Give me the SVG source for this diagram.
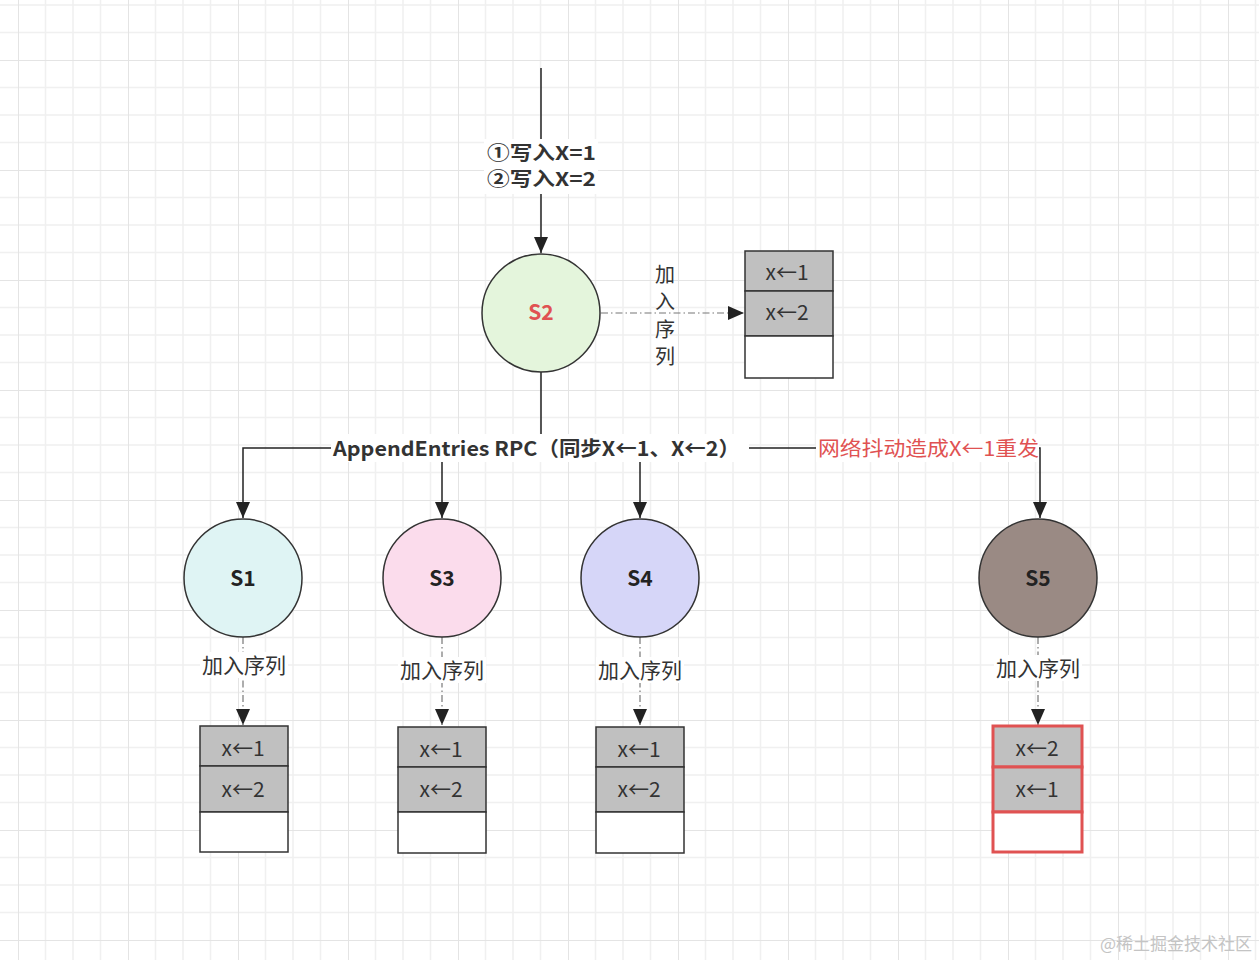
<svg xmlns="http://www.w3.org/2000/svg" width="1259" height="960" viewBox="0 0 1259 960">
<defs>
<pattern id="grid" patternUnits="userSpaceOnUse" x="18" y="60" width="110" height="110">
<path d="M27.5 0V110M55 0V110M82.5 0V110M0 27.5H110M0 55H110M0 82.5H110" stroke="#f0f0f0" stroke-width="1.5" fill="none"/>
<path d="M0 0V110M0 0H110" stroke="#e4e4e4" stroke-width="2" fill="none"/>
</pattern>
<marker id="arr" markerWidth="16" markerHeight="14" refX="16" refY="7" viewBox="0 0 16 14" markerUnits="userSpaceOnUse" orient="auto">
<path d="M0 0L16 7L0 14Z" fill="#222"/>
</marker>
</defs>
<style>
.t{font-family:"Noto Sans CJK SC","Open Sans","Noto Sans",sans-serif;fill:#333;}
.b{font-weight:bold;}
.edge{stroke:#222;stroke-width:1.5;fill:none;}
.dd{stroke:#777;stroke-width:1.2;fill:none;stroke-dasharray:7 3 1.5 3;}
.node{stroke:#333;stroke-width:1.5;}
.cell{fill:#c0c0c0;stroke:#333;stroke-width:1.5;}
.empty{fill:#fff;stroke:#333;stroke-width:1.5;}
.rcell{fill:#c0c0c0;stroke:#e05252;stroke-width:3;}
.rempty{fill:#fff;stroke:#e05252;stroke-width:3;}
.lbl{font-size:20px;text-anchor:middle;}
.q{font-size:21px;text-anchor:middle;}
.sn{font-size:21px;text-anchor:middle;font-weight:bold;}
.bg{fill:#fff;}
</style>
<rect width="1259" height="960" fill="#fff"/>
<rect width="1259" height="960" fill="url(#grid)"/>

<g id="connectors">
<line class="edge" x1="541" y1="68" x2="541" y2="253" marker-end="url(#arr)"/>
<rect class="bg" x="484" y="139" width="114" height="55"/>
<text class="t b" x="487" y="160" font-size="19" textLength="109" lengthAdjust="spacingAndGlyphs">①写入X=1</text>
<text class="t b" x="487" y="186" font-size="19" textLength="109" lengthAdjust="spacingAndGlyphs">②写入X=2</text>

<line class="dd" x1="601" y1="313" x2="744" y2="313" marker-end="url(#arr)"/>
<text class="t lbl" x="665" y="282">加</text>
<text class="t lbl" x="665" y="309">入</text>
<text class="t lbl" x="665" y="337">序</text>
<text class="t lbl" x="665" y="364">列</text>

<path class="edge" d="M541 372V448H243V518" marker-end="url(#arr)"/>
<path class="edge" d="M442 448V518" marker-end="url(#arr)"/>
<path class="edge" d="M640 448V518" marker-end="url(#arr)"/>
<path class="edge" d="M541 448H1040V518" marker-end="url(#arr)"/>
<rect class="bg" x="331" y="434" width="418" height="28"/>
<text class="t b" x="333" y="456" font-size="20" textLength="407" lengthAdjust="spacingAndGlyphs">AppendEntries RPC（同步X←1、X←2）</text>
<rect class="bg" x="816" y="434" width="223" height="28"/>
<text class="t" x="818" y="456" font-size="20" textLength="221" lengthAdjust="spacingAndGlyphs" style="fill:#e05252">网络抖动造成X←1重发</text>

<line class="dd" x1="243" y1="637" x2="243" y2="725" marker-end="url(#arr)"/>
<rect class="bg" x="200" y="652" width="88" height="26"/>
<text class="t q" x="244" y="673">加入序列</text>
<line class="dd" x1="442" y1="637" x2="442" y2="725" marker-end="url(#arr)"/>
<rect class="bg" x="398" y="657" width="88" height="26"/>
<text class="t q" x="442" y="678">加入序列</text>
<line class="dd" x1="640" y1="637" x2="640" y2="725" marker-end="url(#arr)"/>
<rect class="bg" x="596" y="657" width="88" height="26"/>
<text class="t q" x="640" y="678">加入序列</text>
<line class="dd" x1="1038" y1="637" x2="1038" y2="725" marker-end="url(#arr)"/>
<rect class="bg" x="994" y="655" width="88" height="26"/>
<text class="t q" x="1038" y="676">加入序列</text>
</g>

<g id="S2">
<circle class="node" cx="541" cy="313" r="59" fill="#e4f5dc"/>
<text class="t sn" x="541" y="320" style="fill:#e05252">S2</text>
</g>
<g id="queue-S2">
<rect class="cell" x="745" y="251" width="88" height="40"/>
<rect class="cell" x="745" y="291" width="88" height="45"/>
<rect class="empty" x="745" y="336" width="88" height="42"/>
<text class="t q" x="787" y="280">x←1</text>
<text class="t q" x="787" y="320">x←2</text>
</g>

<g id="S1">
<circle class="node" cx="243" cy="578" r="59" fill="#dff4f4"/>
<text class="t sn" x="243" y="586" style="fill:#222">S1</text>
</g>
<g id="S3">
<circle class="node" cx="442" cy="578" r="59" fill="#fbdcec"/>
<text class="t sn" x="442" y="586" style="fill:#222">S3</text>
</g>
<g id="S4">
<circle class="node" cx="640" cy="578" r="59" fill="#d6d6f8"/>
<text class="t sn" x="640" y="586" style="fill:#222">S4</text>
</g>
<g id="S5">
<circle class="node" cx="1038" cy="578" r="59" fill="#9a8a84"/>
<text class="t sn" x="1038" y="586" style="fill:#222">S5</text>
</g>

<g id="queue-S1">
<rect class="cell" x="200" y="726" width="88" height="40"/>
<rect class="cell" x="200" y="766" width="88" height="46"/>
<rect class="empty" x="200" y="812" width="88" height="40"/>
<text class="t q" x="243" y="756">x←1</text>
<text class="t q" x="243" y="797">x←2</text>
</g>
<g id="queue-S3">
<rect class="cell" x="398" y="727" width="88" height="40"/>
<rect class="cell" x="398" y="767" width="88" height="45"/>
<rect class="empty" x="398" y="812" width="88" height="41"/>
<text class="t q" x="441" y="757">x←1</text>
<text class="t q" x="441" y="797">x←2</text>
</g>
<g id="queue-S4">
<rect class="cell" x="596" y="727" width="88" height="40"/>
<rect class="cell" x="596" y="767" width="88" height="45"/>
<rect class="empty" x="596" y="812" width="88" height="41"/>
<text class="t q" x="639" y="757">x←1</text>
<text class="t q" x="639" y="797">x←2</text>
</g>
<g id="queue-S5">
<rect class="rcell" x="993" y="726" width="89" height="41"/>
<rect class="rcell" x="993" y="767" width="89" height="45"/>
<rect class="rempty" x="993" y="812" width="89" height="40"/>
<text class="t q" x="1037" y="756">x←2</text>
<text class="t q" x="1037" y="797">x←1</text>
</g>

<text class="t" x="1252" y="950" font-size="17" text-anchor="end" style="fill:#c4c4c4">@稀土掘金技术社区</text>
</svg>
